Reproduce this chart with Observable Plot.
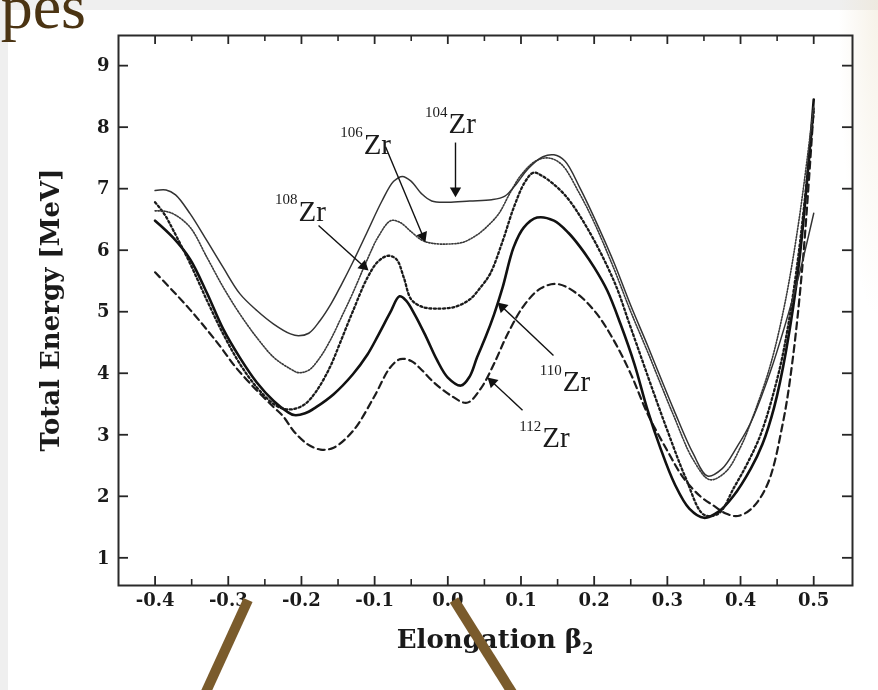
<!DOCTYPE html>
<html>
<head>
<meta charset="utf-8">
<script src="https://cdn.jsdelivr.net/npm/d3@7"></script>
<script src="https://cdn.jsdelivr.net/npm/@observablehq/plot@0.6"></script>
<style>
  html, body { margin: 0; padding: 0; }
  body { width: 878px; height: 690px; background: #efefef; position: relative; overflow: hidden; }
  #panel { position: absolute; left: 8px; top: 10px; right: 0; bottom: 0; background: #fff; }
  #tint { position: absolute; right: 0; top: 0; width: 40px; height: 320px;
          background: radial-gradient(ellipse at 100% 0%, rgba(236,226,204,0.45), rgba(236,226,204,0) 70%); }
  #chart { position: absolute; left: 0; top: 0; }
  #chart svg { filter: blur(0.45px); }
  #overlay { position: absolute; left: 0; top: 0; pointer-events: none; }
</style>
</head>
<body>
<div id="panel"></div>
<div id="tint"></div>
<div id="chart"></div>
<svg id="overlay" width="878" height="690"></svg>
<script>
// Potential-energy curves of the Zr isotopes versus quadrupole elongation beta2
const beta104 = [-0.40,-0.385,-0.372,-0.352,-0.329,-0.307,-0.284,-0.261,-0.238,-0.215,-0.204,-0.19,-0.175,-0.16,-0.145,-0.13,-0.11,-0.09,-0.074,-0.062,-0.05,-0.036,-0.022,0.0,0.03,0.06,0.078,0.092,0.11,0.13,0.145,0.16,0.181,0.205,0.227,0.25,0.273,0.29,0.309,0.335,0.355,0.375,0.395,0.414,0.44,0.46,0.48,0.5];
const energy104 = [6.97,6.98,6.9,6.59,6.15,5.72,5.29,5.02,4.8,4.64,4.61,4.65,4.85,5.12,5.45,5.8,6.3,6.8,7.12,7.2,7.12,6.92,6.8,6.78,6.8,6.82,6.88,7.05,7.33,7.52,7.55,7.45,7.0,6.4,5.8,5.1,4.45,3.95,3.4,2.7,2.33,2.45,2.8,3.2,4.0,4.75,5.6,6.6];

const beta106 = [-0.40,-0.385,-0.372,-0.352,-0.329,-0.307,-0.284,-0.261,-0.238,-0.215,-0.204,-0.19,-0.175,-0.16,-0.145,-0.13,-0.11,-0.095,-0.078,-0.065,-0.05,-0.035,-0.02,0.0,0.021,0.04,0.055,0.07,0.085,0.1,0.12,0.137,0.155,0.18,0.2,0.227,0.25,0.273,0.29,0.309,0.335,0.358,0.38,0.4,0.414,0.44,0.46,0.48,0.5];
const energy106 = [6.64,6.63,6.57,6.37,5.88,5.40,4.96,4.58,4.26,4.07,4.01,4.05,4.25,4.55,4.92,5.3,5.85,6.22,6.48,6.45,6.3,6.16,6.11,6.1,6.13,6.25,6.4,6.6,6.93,7.22,7.45,7.5,7.4,6.92,6.45,5.7,5.0,4.35,3.85,3.3,2.6,2.27,2.4,2.8,3.2,4.1,5.1,6.5,8.35];

const beta108 = [-0.40,-0.387,-0.375,-0.352,-0.329,-0.307,-0.284,-0.261,-0.238,-0.224,-0.21,-0.195,-0.179,-0.161,-0.147,-0.13,-0.11,-0.095,-0.081,-0.07,-0.06,-0.05,-0.035,-0.015,0.01,0.03,0.045,0.058,0.075,0.09,0.105,0.117,0.13,0.159,0.19,0.227,0.25,0.282,0.30,0.325,0.35,0.37,0.391,0.41,0.428,0.451,0.464,0.48,0.5];
const energy108 = [6.78,6.58,6.32,5.78,5.18,4.64,4.15,3.77,3.5,3.42,3.42,3.5,3.72,4.1,4.5,5.0,5.55,5.82,5.91,5.85,5.55,5.2,5.08,5.05,5.08,5.2,5.4,5.62,6.15,6.69,7.1,7.26,7.2,6.91,6.37,5.5,4.74,3.66,3.07,2.3,1.7,1.72,2.14,2.55,3.02,3.95,4.7,6.0,8.25];

const beta110 = [-0.40,-0.375,-0.352,-0.329,-0.307,-0.284,-0.261,-0.238,-0.22,-0.21,-0.195,-0.18,-0.156,-0.13,-0.11,-0.095,-0.079,-0.066,-0.057,-0.045,-0.03,-0.015,0.0,0.018,0.03,0.04,0.052,0.063,0.075,0.09,0.104,0.122,0.145,0.165,0.181,0.2,0.218,0.236,0.255,0.273,0.29,0.31,0.33,0.35,0.37,0.39,0.414,0.43,0.446,0.462,0.48,0.5];
const energy110 = [6.48,6.2,5.85,5.3,4.72,4.25,3.85,3.55,3.38,3.32,3.35,3.45,3.66,3.98,4.3,4.62,4.98,5.25,5.18,4.95,4.6,4.22,3.93,3.8,3.95,4.26,4.6,4.95,5.4,6.05,6.37,6.53,6.48,6.28,6.05,5.72,5.34,4.8,4.15,3.4,2.8,2.2,1.8,1.65,1.75,2.0,2.45,2.85,3.45,4.35,5.8,8.45];

const beta112 = [-0.40,-0.375,-0.352,-0.33,-0.31,-0.29,-0.261,-0.238,-0.225,-0.21,-0.192,-0.174,-0.156,-0.129,-0.101,-0.079,-0.065,-0.05,-0.037,-0.019,0.004,0.026,0.045,0.063,0.081,0.104,0.127,0.15,0.177,0.204,0.227,0.25,0.273,0.3,0.322,0.345,0.363,0.38,0.396,0.415,0.437,0.458,0.471,0.485,0.5];
const energy112 = [5.64,5.33,5.03,4.72,4.42,4.1,3.72,3.45,3.3,3.05,2.85,2.76,2.79,3.07,3.61,4.09,4.23,4.2,4.07,3.85,3.64,3.52,3.75,4.15,4.62,5.1,5.38,5.45,5.29,4.96,4.53,3.99,3.34,2.74,2.3,2.0,1.85,1.72,1.68,1.8,2.2,3.2,4.2,5.8,8.3];

// Isotope labels and the arrows that point from each label to its curve
const massNumbers = ["104", "106", "108", "110", "112"];
const labelBeta = [0.001, -0.115, -0.204, 0.157, 0.129];
const labelEnergy = [8.05, 7.72, 6.63, 3.86, 2.95];
const arrowFromBeta = [0.0105, -0.0851, -0.1767, 0.1444, 0.1021];
const arrowFromEnergy = [7.75, 7.68, 6.40, 4.29, 3.40];
const arrowToBeta = [0.0105, -0.0305, -0.1084, 0.0679, 0.0542];
const arrowToEnergy = [6.86, 6.13, 5.67, 5.15, 3.93];

// Axis ticks
const xMajorTicks = [-0.4, -0.3, -0.2, -0.1, 0.0, 0.1, 0.2, 0.3, 0.4, 0.5];
const xMinorTicks = [-0.35, -0.25, -0.15, -0.05, 0.05, 0.15, 0.25, 0.35, 0.45];
const yTicks = [1, 2, 3, 4, 5, 6, 7, 8, 9];

const W = 878, H = 690;
const ml = 118, mr = 26, mt = 35, mb = 105;
const plotW = W - ml - mr, plotH = H - mt - mb;
const xDomain = [-0.45, 0.553];
const yDomain = [0.55, 9.49];

const xScale = Plot.scale({x: {domain: xDomain, range: [ml, W - mr]}});
const yScale = Plot.scale({y: {domain: yDomain, range: [H - mb, mt]}});

const rows = (b, e) => b.map((v, i) => ({beta: v, energy: e[i]}));
const curve = "catmull-rom";

// Arrowheads: filled triangles whose tip sits on the arrow end point
const headR = 4.2;
const headTip = 1.555 * headR;
const arrows = massNumbers.map((m, i) => {
  const fx = xScale.apply(arrowFromBeta[i]), fy = yScale.apply(arrowFromEnergy[i]);
  const tx = xScale.apply(arrowToBeta[i]), ty = yScale.apply(arrowToEnergy[i]);
  const dx = tx - fx, dy = ty - fy, len = Math.hypot(dx, dy);
  const cx = tx - dx / len * headTip, cy = ty - dy / len * headTip;
  return {
    x1: arrowFromBeta[i], y1: arrowFromEnergy[i],
    x2: xScale.invert(cx), y2: yScale.invert(cy),
    angle: Math.atan2(dx, -dy) * 180 / Math.PI
  };
});
const labels = massNumbers.map((m, i) => ({mass: m, beta: labelBeta[i], energy: labelEnergy[i]}));

const tickColor = "#262626";
const labelFont = "'Liberation Serif', 'Times New Roman', serif";

const chart = Plot.plot({
  width: W, height: H,
  marginLeft: ml, marginRight: mr, marginTop: mt, marginBottom: mb,
  x: {domain: xDomain, range: [ml, W - mr]},
  y: {domain: yDomain, range: [H - mb, mt]},
  style: {background: "transparent", fontFamily: "'DejaVu Serif', serif", fontWeight: "bold", fontSize: "18px", color: "#1a1a1a"},
  marks: [
    // inward ticks on all four sides
    Plot.tickX(xMajorTicks, {x: d => d, insetTop: plotH - 9, stroke: tickColor, strokeWidth: 1.8}),
    Plot.tickX(xMinorTicks, {x: d => d, insetTop: plotH - 6, stroke: tickColor, strokeWidth: 1.6}),
    Plot.tickX(xMajorTicks, {x: d => d, insetBottom: plotH - 9, stroke: tickColor, strokeWidth: 1.8}),
    Plot.tickX(xMinorTicks, {x: d => d, insetBottom: plotH - 6, stroke: tickColor, strokeWidth: 1.6}),
    Plot.tickY(yTicks, {y: d => d, insetRight: plotW - 10, stroke: tickColor, strokeWidth: 1.8}),
    Plot.tickY(yTicks, {y: d => d, insetLeft: plotW - 10, stroke: tickColor, strokeWidth: 1.8}),
    Plot.axisX(xMajorTicks, {tickSize: 0, tickPadding: 8, tickFormat: d => d.toFixed(1), label: null, fontSize: 18, fontWeight: "bold"}),
    Plot.axisY(yTicks, {tickSize: 0, tickPadding: 9, tickFormat: d => String(d), label: null, fontSize: 18, fontWeight: "bold"}),

    // the five isotopes
    Plot.line(rows(beta112, energy112), {x: "beta", y: "energy", curve, stroke: "#1c1c1c", strokeWidth: 2.2, strokeDasharray: "7,4.5"}),
    Plot.line(rows(beta110, energy110), {x: "beta", y: "energy", curve, stroke: "#111", strokeWidth: 2.6}),
    Plot.line(rows(beta108, energy108), {x: "beta", y: "energy", curve, stroke: "#1a1a1a", strokeWidth: 2.3, strokeDasharray: "2,2.6"}),
    Plot.line(rows(beta106, energy106), {x: "beta", y: "energy", curve, stroke: "#3a3a3a", strokeWidth: 1.6, strokeDasharray: "1.3,1.6"}),
    Plot.line(rows(beta104, energy104), {x: "beta", y: "energy", curve, stroke: "#333", strokeWidth: 1.5}),

    // annotation arrows
    Plot.link(arrows, {x1: "x1", y1: "y1", x2: "x2", y2: "y2", stroke: "#111", strokeWidth: 1.4}),
    Plot.dot(arrows, {x: "x2", y: "y2", symbol: "triangle", r: headR, fill: "#111", stroke: "none", rotate: "angle"}),

    // isotope labels: mass number as a superscript in front of the element symbol
    Plot.text(labels, {x: "beta", y: "energy", text: "mass", textAnchor: "end", dx: -1, dy: -12, fontSize: 15, fontWeight: "normal", fontFamily: labelFont, fill: "#1a1a1a"}),
    Plot.text(labels, {x: "beta", y: "energy", text: () => "Zr", textAnchor: "start", fontSize: 29, fontWeight: "normal", fontFamily: labelFont, fill: "#1a1a1a"}),

    Plot.frame({stroke: "#2a2a2a", strokeWidth: 2})
  ]
});

// axis titles, with the subscript of beta2 as a real tspan
const svg = d3.select(chart);
svg.append("text")
  .attr("transform", "translate(50,310) rotate(-90)")
  .attr("text-anchor", "middle")
  .attr("dominant-baseline", "central")
  .attr("font-size", 26)
  .attr("font-weight", "bold")
  .attr("fill", "#1a1a1a")
  .text("Total Energy [MeV]");
const xt = svg.append("text")
  .attr("x", 495).attr("y", 648)
  .attr("text-anchor", "middle")
  .attr("font-size", 26)
  .attr("font-weight", "bold")
  .attr("fill", "#1a1a1a");
xt.append("tspan").text("Elongation β");
xt.append("tspan").attr("font-size", 16).attr("dy", 6).text("2");

document.getElementById("chart").append(chart);

// slide title (running off the top-left corner) and pointer strokes laid over the figure
const ov = d3.select("#overlay");
ov.append("text")
  .attr("x", 86).attr("y", 28)
  .attr("text-anchor", "end")
  .attr("font-family", "'Liberation Serif', serif")
  .attr("font-size", 64)
  .attr("fill", "#4b3413")
  .text("Shapes");
ov.append("line").attr("x1", 248).attr("y1", 600).attr("x2", 205).attr("y2", 694)
  .attr("stroke", "#7a5b2c").attr("stroke-width", 10);
ov.append("line").attr("x1", 454).attr("y1", 600).attr("x2", 513).attr("y2", 694)
  .attr("stroke", "#7a5b2c").attr("stroke-width", 10);
</script>
</body>
</html>
